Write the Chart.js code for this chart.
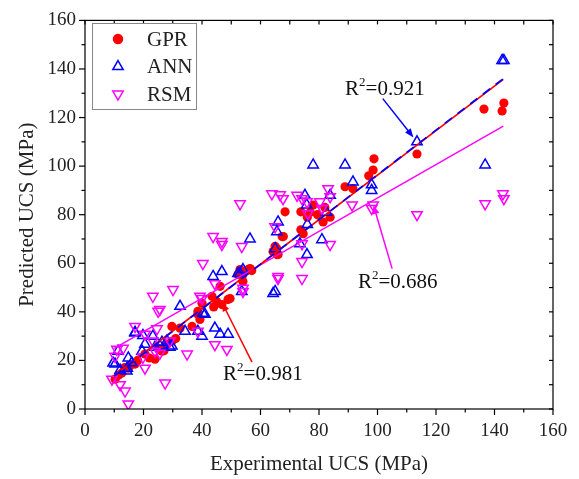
<!DOCTYPE html>
<html lang="en">
<head>
    <meta charset="UTF-8">
    <title>Predicted vs Experimental UCS</title>
    <script src="https://cdn.jsdelivr.net/npm/chart.js@4.4.1/dist/chart.umd.min.js"></script>
    <style>
        * { margin: 0; padding: 0; }
        body { background: #ffffff; }
        #chart { display: block; }
    </style>
</head>
<body>
    <canvas id="chart" width="579" height="479"></canvas>

    <script>
        // experimental UCS (x) vs predicted UCS (y), MPa
        const gprX = [10.3, 11.5, 12.6, 13.5, 14.8, 15.5, 17.1, 18, 20.5, 22, 23.9, 25, 26.3, 27, 28, 29.7, 29.7, 31, 32.5, 36.6,
            38.6, 38.6, 39.3, 40, 43.4, 44, 45, 46.2, 46.8, 48.9, 49.6, 52.3, 53, 54, 54, 55.8, 56.4, 57, 64.3, 65,
            65.6, 65.6, 66, 67.4, 67.8, 68.4, 73.8, 73.8, 74.6, 76, 77, 78, 79.5, 81.4, 82, 83.8, 88.9, 91.6, 97, 98.5,
            98.8, 113.5, 136.4, 142.6, 143.2];
        const gprY = [12.3, 14, 14.8, 17, 16.8, 18, 18.5, 20, 22.6, 21, 20.5, 25, 23.8, 24, 26.7, 27.9, 34, 29, 33.3, 34,
            39, 40.2, 36.9, 43.5, 46.4, 42, 44.3, 50.5, 43, 45.1, 45.5, 55.4, 57.4, 52.5, 55.4, 57.4, 57.8, 57, 64.8, 67,
            63.6, 66, 63.6, 71, 71, 81.2, 81.2, 73.8, 72.2, 79, 81, 84, 80, 77, 83, 79, 91.5, 90.7, 96, 98.4,
            103, 105, 123.5, 122.7, 126];

        const annX = [9.6, 10.3, 11.3, 12, 14.3, 14.4, 14.8, 16, 17.1, 17.1, 19.5, 19.8, 20.5, 23.2, 23.9, 25.6, 26.3, 28, 29, 29.7,
            32.5, 34.2, 38.6, 40, 40.3, 41, 43.8, 44.4, 46.2, 46.8, 48.9, 52.3, 53, 53.6, 54, 56.4, 64.3, 65, 65, 65.6,
            66, 73.5, 75.2, 75.8, 75.9, 76, 78, 81, 82.6, 83.8, 88.9, 91.6, 98, 98, 113.5, 136.8, 142.6, 143.2];
        const annY = [18.9, 18.5, 23.8, 16, 15.6, 16.8, 21, 19, 31.3, 31.6, 23.8, 30.3, 26.7, 30, 25.4, 26, 27.5, 28, 25.4, 25.9,
            42.3, 32, 32, 30, 39.4, 39, 54.6, 33.3, 30.8, 56.6, 30.8, 55.8, 55.8, 48.4, 57.4, 70, 47.6, 48.4, 66, 73,
            77, 68, 88, 84, 63.6, 76, 100.5, 69.7, 81, 88, 100.5, 93.5, 92.3, 90, 110, 100.5, 143.5, 143.5];

        const rsmX = [9.2, 10.3, 10.9, 12, 13, 13.7, 14.8, 17.1, 19.8, 20.5, 20.5, 23.2, 23.2, 23.9, 24.6, 25, 25.6, 25.6, 27.4, 29,
            30.1, 34.9, 38.6, 39.3, 40, 40.3, 43.8, 44.4, 44.4, 46.8, 46.8, 48.5, 53, 53.6, 54, 54, 63.9, 65, 66, 66,
            66.7, 67.7, 72.5, 74.2, 74.2, 74.2, 74.2, 75.9, 76.2, 80.3, 81, 83.1, 83.8, 83.8, 91.3, 98, 98.5, 113.5, 136.8, 142.9,
            143.2];
        const rsmY = [12.3, 21.7, 24.6, 10, 25, 7.4, 2.1, 34, 21.3, 16.8, 30.8, 28, 46.4, 23.8, 33, 40.2, 23, 41, 10.7, 28,
            49.2, 22.6, 32, 46.4, 45.5, 59.9, 71, 51.6, 26.5, 67.7, 69, 24.5, 84.5, 66.9, 48.4, 49.7, 88.6, 75, 53.7, 54.6,
            88.2, 86.6, 88, 86.6, 60.7, 53.7, 68, 85.3, 80.4, 85.3, 82.6, 90.7, 87.4, 67.7, 84, 82.6, 84, 80, 84.5, 88.6,
            86.6];

        // linear fits, drawn between the end points
        const fitX = [10, 143];
        const gprFit = [13.8, 135.7];
        const annFit = [13.6, 136];
        const rsmFit = [25, 116.5];

        const r2Labels = ['0.921', '0.686', '0.981'];

        const SERIF = "'Liberation Serif', 'Times New Roman', serif";
        const RED = '#ff0000', BLUE = '#0000ff', MAG = '#ff00ff';

        function pts(xs, ys) {
            return xs.map((v, i) => ({ x: v, y: ys[i] }));
        }

        // annotation arrows (data coords): text anchor, arrow start, arrow tip
        const notes = [
            { label: r2Labels[0], color: BLUE, tx: 88.9, ty: 129.3, from: [101.8, 127.8], to: [112.3, 111.8] },
            { label: r2Labels[1], color: MAG, tx: 93.3, ty: 50, from: [105, 57.8], to: [98.6, 84] },
            { label: r2Labels[2], color: RED, tx: 47.2, ty: 12, from: [57.1, 19.3], to: [46.8, 43.9] }
        ];

        function line(ctx, x1, y1, x2, y2) {
            ctx.beginPath();
            ctx.moveTo(x1, y1);
            ctx.lineTo(x2, y2);
            ctx.stroke();
        }

        function drawR2(ctx, x, y, value) {
            ctx.fillStyle = '#111';
            ctx.textBaseline = 'alphabetic';
            ctx.textAlign = 'left';
            ctx.font = '21px ' + SERIF;
            ctx.fillText('R', x, y);
            let w = ctx.measureText('R').width;
            ctx.font = '13px ' + SERIF;
            ctx.fillText('2', x + w, y - 9);
            w += ctx.measureText('2').width;
            ctx.font = '21px ' + SERIF;
            ctx.fillText('=' + value, x + w, y);
        }

        const decor = {
            id: 'decor',
            afterDraw(chart) {
                const { ctx, chartArea: a, scales: { x, y } } = chart;
                ctx.save();
                ctx.strokeStyle = '#000';
                ctx.lineWidth = 1.2;
                ctx.strokeRect(a.left, a.top, a.right - a.left, a.bottom - a.top);

                for (let v = 0; v <= 160; v += 10) {
                    const major = v % 20 === 0;
                    const len = major ? 6 : 3.5;
                    const px = x.getPixelForValue(v), py = y.getPixelForValue(v);
                    line(ctx, px, a.bottom, px, a.bottom + len);
                    line(ctx, a.left - len, py, a.left, py);
                    line(ctx, px, a.top, px, a.top + 4);
                    line(ctx, a.right - 4, py, a.right, py);
                }

                // axis titles
                ctx.fillStyle = '#222';
                ctx.font = '21px ' + SERIF;
                ctx.textAlign = 'center';
                ctx.textBaseline = 'middle';
                ctx.fillText('Experimental UCS (MPa)', (a.left + a.right) / 2, 464);
                ctx.save();
                ctx.translate(27, (a.top + a.bottom) / 2);
                ctx.rotate(-Math.PI / 2);
                ctx.fillText('Predicted UCS (MPa)', 0, 0);
                ctx.restore();

                // arrows and R2 labels
                notes.forEach(n => {
                    const x1 = x.getPixelForValue(n.from[0]), y1 = y.getPixelForValue(n.from[1]);
                    const x2 = x.getPixelForValue(n.to[0]), y2 = y.getPixelForValue(n.to[1]);
                    ctx.strokeStyle = n.color;
                    ctx.fillStyle = n.color;
                    ctx.lineWidth = 1.5;
                    const ang = Math.atan2(y2 - y1, x2 - x1);
                    line(ctx, x1, y1, x2 - 6 * Math.cos(ang), y2 - 6 * Math.sin(ang));
                    ctx.beginPath();
                    ctx.moveTo(x2, y2);
                    ctx.lineTo(x2 - 9 * Math.cos(ang) + 3.5 * Math.sin(ang), y2 - 9 * Math.sin(ang) - 3.5 * Math.cos(ang));
                    ctx.lineTo(x2 - 9 * Math.cos(ang) - 3.5 * Math.sin(ang), y2 - 9 * Math.sin(ang) + 3.5 * Math.cos(ang));
                    ctx.closePath();
                    ctx.fill();
                    drawR2(ctx, x.getPixelForValue(n.tx), y.getPixelForValue(n.ty), n.label);
                });

                // legend
                const lx = 92, ly = 23, lw = 104, lh = 86;
                ctx.fillStyle = '#fff';
                ctx.fillRect(lx, ly, lw, lh);
                ctx.strokeStyle = '#888';
                ctx.lineWidth = 1;
                ctx.strokeRect(lx + 0.5, ly + 0.5, lw, lh);
                const items = [
                    { name: 'GPR', style: 'circle', r: 4.5, rot: 0, fill: RED, stroke: RED },
                    { name: 'ANN', style: 'triangle', r: 6, rot: 0, fill: 'rgba(0,0,0,0)', stroke: BLUE },
                    { name: 'RSM', style: 'triangle', r: 6, rot: 180, fill: 'rgba(0,0,0,0)', stroke: MAG }
                ];
                items.forEach((it, i) => {
                    const cy = 39 + i * 27.5;
                    ctx.fillStyle = it.fill;
                    ctx.strokeStyle = it.stroke;
                    ctx.lineWidth = 1.5;
                    Chart.helpers.drawPoint(ctx, { pointStyle: it.style, radius: it.r, rotation: it.rot, borderWidth: 1.5 }, 118, cy);
                    ctx.fillStyle = '#222';
                    ctx.font = '21px ' + SERIF;
                    ctx.textAlign = 'left';
                    ctx.textBaseline = 'middle';
                    ctx.fillText(it.name, 147, cy + 1);
                });
                ctx.restore();
            }
        };

        const ctx = document.getElementById('chart').getContext('2d');
        new Chart(ctx, {
            type: 'scatter',
            data: {
                datasets: [
                    {
                        label: 'ANN fit', type: 'line', data: pts(fitX, annFit), order: 0,
                        borderColor: BLUE, borderWidth: 1.7, borderDash: [9, 7], pointRadius: 0, fill: false
                    },
                    {
                        label: 'GPR fit', type: 'line', data: pts(fitX, gprFit), order: 1,
                        borderColor: RED, borderWidth: 1.7, pointRadius: 0, fill: false
                    },
                    {
                        label: 'RSM fit', type: 'line', data: pts(fitX, rsmFit), order: 2,
                        borderColor: MAG, borderWidth: 1.4, pointRadius: 0, fill: false
                    },
                    {
                        label: 'RSM', data: pts(rsmX, rsmY), order: 3,
                        pointStyle: 'triangle', rotation: 180, pointRadius: 6,
                        backgroundColor: 'rgba(0,0,0,0)', borderColor: MAG, borderWidth: 1.5
                    },
                    {
                        label: 'ANN', data: pts(annX, annY), order: 4,
                        pointStyle: 'triangle', pointRadius: 6,
                        backgroundColor: 'rgba(0,0,0,0)', borderColor: BLUE, borderWidth: 1.5
                    },
                    {
                        label: 'GPR', data: pts(gprX, gprY), order: 5,
                        pointStyle: 'circle', pointRadius: 4.6,
                        backgroundColor: RED, borderColor: RED, borderWidth: 0
                    }
                ]
            },
            options: {
                responsive: false,
                animation: false,
                devicePixelRatio: 1,
                layout: { padding: { top: 18, right: 26, left: 0, bottom: 0 } },
                plugins: { legend: { display: false }, tooltip: { enabled: false } },
                scales: {
                    x: {
                        type: 'linear', min: 0, max: 160,
                        grid: { display: false, drawTicks: false },
                        border: { display: false },
                        ticks: { stepSize: 20, padding: 11, color: '#222', font: { family: SERIF, size: 19 } },
                        afterFit(s) { s.height = 70; }
                    },
                    y: {
                        type: 'linear', min: 0, max: 160,
                        grid: { display: false, drawTicks: false },
                        border: { display: false },
                        ticks: { stepSize: 20, padding: 9, color: '#222', font: { family: SERIF, size: 19 } },
                        afterFit(s) { s.width = 85; }
                    }
                }
            },
            plugins: [decor]
        });
    </script>
</body>
</html>
